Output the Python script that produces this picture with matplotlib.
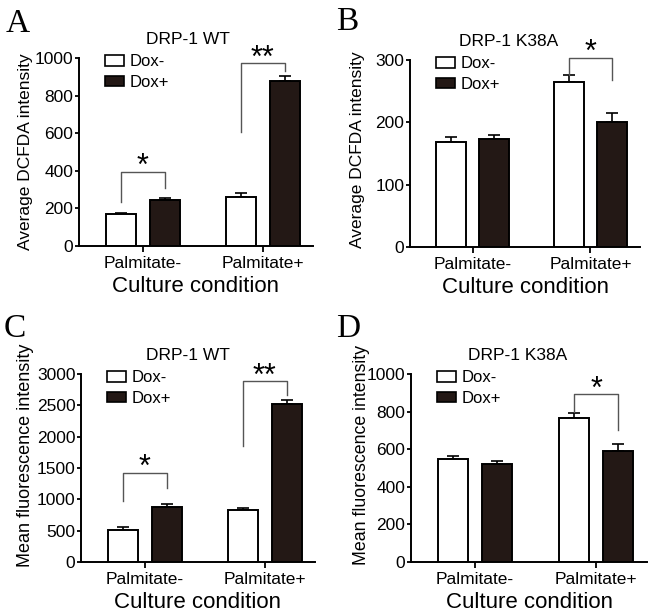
import numpy as np
import matplotlib
matplotlib.use("Agg")
import matplotlib.pyplot as plt
from matplotlib.patches import Patch

plt.rcParams['font.family'] = ['Liberation Sans', 'DejaVu Sans']

groups = ['Palmitate-', 'Palmitate+']
series_names = ['Dox-', 'Dox+']

# panel A: DRP-1 WT, DCFDA
a_minus = [169, 263]
a_minus_err = [8, 20]
a_plus = [245, 876]
a_plus_err = [10, 28]

# panel B: DRP-1 K38A, DCFDA
b_minus = [168, 265]
b_minus_err = [9, 11]
b_plus = [173, 200]
b_plus_err = [6, 15]

# panel C: DRP-1 WT, fluorescence
c_minus = [512, 831]
c_minus_err = [47, 38]
c_plus = [879, 2515]
c_plus_err = [48, 69]

# panel D: DRP-1 K38A, fluorescence
d_minus = [547, 764]
d_minus_err = [18, 26]
d_plus = [520, 591]
d_plus_err = [15, 36]

# significance brackets: group, top, left leg end, right leg end, label
a_sig = [(0, 396, 236, 307, '*'), (1, 973, 609, 929, '**')]
b_sig = [(1, 304, 276, 268, '*')]
c_sig = [(0, 1428, 975, 1188, '*'), (1, 2883, 1854, 2664, '**')]
d_sig = [(1, 893, 796, 703, '*')]

W, H = 664, 613
dark = '#231815'
off = 0.183
bw = 0.25

fig = plt.figure(figsize=(W / 100, H / 100), dpi=100)


def panel(box, letter, letter_xy, title, title_x, ylabel, ylab_size, ylab_pos, yticks,
          minus, minus_err, plus, plus_err, sig):
    l, t, r, b = box
    ax = fig.add_axes([l / W, 1 - b / H, (r - l) / W, (b - t) / H])
    x = np.arange(len(groups))
    ax.bar(x - off, minus, bw, color='white', edgecolor='black', linewidth=1.4, zorder=2)
    ax.bar(x + off, plus, bw, color=dark, edgecolor='black', linewidth=1.4, zorder=2)
    ax.errorbar(x - off, minus, yerr=[np.zeros(2), minus_err], fmt='none',
                ecolor='black', elinewidth=1.2, capsize=4.5, capthick=1.2, zorder=1)
    ax.errorbar(x + off, plus, yerr=[np.zeros(2), plus_err], fmt='none',
                ecolor='black', elinewidth=1.2, capsize=4.5, capthick=1.2, zorder=1)
    for g, top, yl, yr, lab in sig:
        xl, xr = g - off, g + off
        ax.plot([xl, xl, xr, xr], [yl, top, top, yr], color='#555555', lw=1.0,
                clip_on=False, zorder=3)
        ax.annotate(lab, xy=(g, top), xytext=(0, 3), textcoords='offset points',
                    ha='center', va='center', fontsize=22, annotation_clip=False)
    ax.set_xlim(-0.53, 1.42)
    ax.set_ylim(yticks[0], yticks[-1])
    ax.set_yticks(yticks)
    ax.set_xticks(x)
    ax.set_xticklabels(groups, fontsize=12.5)
    ax.tick_params(axis='y', labelsize=12.5, length=3, width=1.3, pad=1)
    ax.tick_params(axis='x', length=4, width=1.3, pad=3)
    for s in ['top', 'right']:
        ax.spines[s].set_visible(False)
    for s in ['left', 'bottom']:
        ax.spines[s].set_linewidth(1.4)
    ax.set_ylabel(ylabel, fontsize=ylab_size)
    ax.yaxis.set_label_coords(*ylab_pos)
    ax.set_xlabel('Culture condition', fontsize=16, labelpad=4)
    ax.set_title(title, fontsize=12.5, pad=10, x=title_x)
    handles = [Patch(facecolor='white', edgecolor='black', linewidth=1.2),
               Patch(facecolor=dark, edgecolor='black', linewidth=1.2)]
    ax.legend(handles, series_names, loc='upper left', bbox_to_anchor=(0.075, 1.065),
              frameon=False, fontsize=12, handlelength=1.15, handleheight=0.6,
              handletextpad=0.35, labelspacing=0.35, borderpad=0)
    fig.text(letter_xy[0] / W, 1 - letter_xy[1] / H, letter, fontsize=24,
             family='Liberation Serif', ha='left', va='baseline')
    return ax


panel((79, 58, 313, 246), 'A', (6, 32), 'DRP-1 WT', 0.466, 'Average DCFDA intensity', 12.5,
      (-0.197, 0.5), [0, 200, 400, 600, 800, 1000],
      a_minus, a_minus_err, a_plus, a_plus_err, a_sig)
panel((410, 60, 640, 247), 'B', (336, 30), 'DRP-1 K38A', 0.43, 'Average DCFDA intensity', 12.5,
      (-0.196, 0.52), [0, 100, 200, 300],
      b_minus, b_minus_err, b_plus, b_plus_err, b_sig)
panel((81, 374, 315, 562), 'C', (4, 337), 'DRP-1 WT', 0.457, 'Mean fluorescence intensity', 13.0,
      (-0.2, 0.57), [0, 500, 1000, 1500, 2000, 2500, 3000],
      c_minus, c_minus_err, c_plus, c_plus_err, c_sig)
panel((411, 374, 647, 562), 'D', (336, 337), 'DRP-1 K38A', 0.45, 'Mean fluorescence intensity', 12.8,
      (-0.175, 0.57), [0, 200, 400, 600, 800, 1000],
      d_minus, d_minus_err, d_plus, d_plus_err, d_sig)

fig.savefig('out.png', dpi=100)
